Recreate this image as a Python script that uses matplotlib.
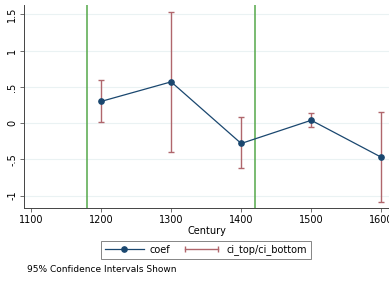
import matplotlib
matplotlib.use('Agg')
import matplotlib.pyplot as plt
from matplotlib.lines import Line2D
from matplotlib.legend_handler import HandlerLine2D
import numpy as np

# data
century = [1200, 1300, 1400, 1500, 1600]
coef = [0.30, 0.57, -0.28, 0.04, -0.47]
ci_top = [0.59, 1.53, 0.08, 0.14, 0.16]
ci_bottom = [0.01, -0.40, -0.62, -0.05, -1.09]
vlines_at = [1180, 1420]

navy = '#1a476f'
ci_col = '#b0666c'
green = '#55a84a'

fig = plt.figure(figsize=(3.89, 2.81), dpi=100)
ax = fig.add_axes([24 / 389, 73 / 281, 1 - 24 / 389, 203 / 281])

for v in vlines_at:
    ax.axvline(v, color=green, lw=1.1, zorder=1)

c = np.array(coef)
err = [c - np.array(ci_bottom), np.array(ci_top) - c]
ax.errorbar(century, coef, yerr=err, fmt='none', ecolor=ci_col, elinewidth=1.0,
            capsize=2.5, capthick=1.0, zorder=2)
ax.plot(century, coef, color=navy, lw=0.9, marker='o', ms=3.8, zorder=3)

ax.set_xlim(1090, 1611)
ax.set_ylim(-1.17, 1.63)
ax.set_xticks([1100, 1200, 1300, 1400, 1500, 1600])
ax.set_yticks([-1, -0.5, 0, 0.5, 1, 1.5])
ax.set_yticklabels(['-1', '-.5', '0', '.5', '1', '1.5'], rotation=90, va='center')
ax.tick_params(labelsize=7, length=3, width=0.6, color='#555555', pad=2)
ax.grid(axis='y', color='#eaf2f3', lw=0.8)
ax.set_axisbelow(True)
for s in ['top', 'right']:
    ax.spines[s].set_visible(False)
for s in ['left', 'bottom']:
    ax.spines[s].set_linewidth(0.7)
    ax.spines[s].set_color('#444444')
ax.set_xlabel('Century', fontsize=7, labelpad=1)

h1 = Line2D([], [], color=navy, lw=0.9, marker='o', ms=3.8)
h2 = Line2D([], [], color=ci_col, lw=1.0, marker='|', ms=5)
leg = fig.legend([h1, h2], ['coef', 'ci_top/ci_bottom'], ncol=2,
                 loc='center', bbox_to_anchor=(206 / 389, 1 - 250 / 281),
                 fontsize=7, frameon=True, fancybox=False, handlelength=4.0,
                 columnspacing=1.2, borderpad=0.4, handletextpad=0.6,
                 handler_map={h2: HandlerLine2D(numpoints=2)})
leg.get_frame().set_edgecolor('#666666')
leg.get_frame().set_linewidth(0.7)

fig.text(27 / 389, 1 - 270 / 281, '95% Confidence Intervals Shown', fontsize=6.5,
         va='center', ha='left')

fig.savefig('out.png', dpi=100)
